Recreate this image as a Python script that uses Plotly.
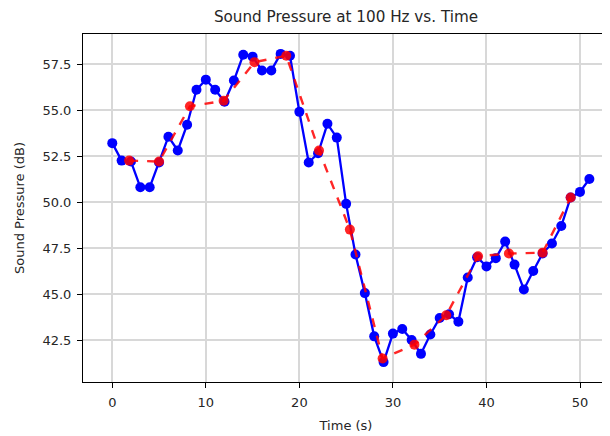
import plotly.graph_objects as go

time_s = list(range(52))
pressure_db = [53.2, 52.25, 52.2, 50.8, 50.8, 52.15, 53.55, 52.8, 54.2, 56.1,
               56.65, 56.1, 55.45, 56.6, 58.0, 57.9, 57.15, 57.15, 58.05, 57.95,
               54.9, 52.15, 52.65, 54.25, 53.5, 49.9, 47.15, 45.05, 42.7, 41.3,
               42.85, 43.1, 42.5, 41.75, 42.8, 43.7, 43.9, 43.5, 45.9, 47.0,
               46.5, 46.95, 47.85, 46.6, 45.25, 46.25, 47.2, 47.75, 48.7, 50.25,
               50.55, 51.25]

smooth_time = [1.8, 5.0, 8.3, 11.9, 15.2, 18.6, 22.1, 25.4, 28.9, 32.3,
               35.7, 39.1, 42.4, 46.0, 49.0]
smooth_db = [52.25, 52.2, 55.2, 55.5, 57.6, 57.95, 52.8, 48.5, 41.5, 42.25,
             43.85, 47.05, 47.2, 47.25, 50.25]

x_ticks = [0, 10, 20, 30, 40, 50]
y_ticks = [42.5, 45.0, 47.5, 50.0, 52.5, 55.0, 57.5]

fig = go.Figure()
fig.add_trace(go.Scatter(
    x=time_s, y=pressure_db, mode="lines+markers",
    line=dict(color="#0000ff", width=2.3),
    marker=dict(color="#0000ff", size=10),
    showlegend=False))
fig.add_trace(go.Scatter(
    x=smooth_time, y=smooth_db, mode="lines+markers",
    line=dict(color="rgba(255,0,0,0.85)", width=2.4, dash="dash"),
    marker=dict(color="rgba(255,0,0,0.85)", size=10),
    showlegend=False))

axis_common = dict(
    showline=True, mirror=True, linecolor="black", linewidth=1,
    ticks="outside", ticklen=5, tickcolor="black", tickwidth=1,
    showgrid=True, gridcolor="#d8d8d8", gridwidth=1.5,
    zeroline=False, tickfont=dict(size=13, color="#262626"),
    ticklabelstandoff=3,
)

fig.update_layout(
    width=602, height=428,
    margin=dict(l=75, r=1, t=26, b=54),
    paper_bgcolor="white", plot_bgcolor="white",
    font=dict(family="DejaVu Sans", color="#262626"),
    title=dict(text="Sound Pressure at 100 Hz vs. Time", x=0.5, xanchor="center",
               xref="paper", y=1, yref="container", yanchor="top", pad=dict(t=3),
               font=dict(size=15.2, color="#262626")),
    xaxis=dict(range=[-3.13, 53.1], tickvals=x_ticks,
               title=dict(text="Time (s)", font=dict(size=13), standoff=12),
               **axis_common),
    yaxis=dict(range=[40.22, 59.13], tickvals=y_ticks, tickformat=".1f",
               title=dict(text="Sound Pressure (dB)", font=dict(size=13), standoff=14),
               **axis_common),
)

fig.write_html("out.html")
